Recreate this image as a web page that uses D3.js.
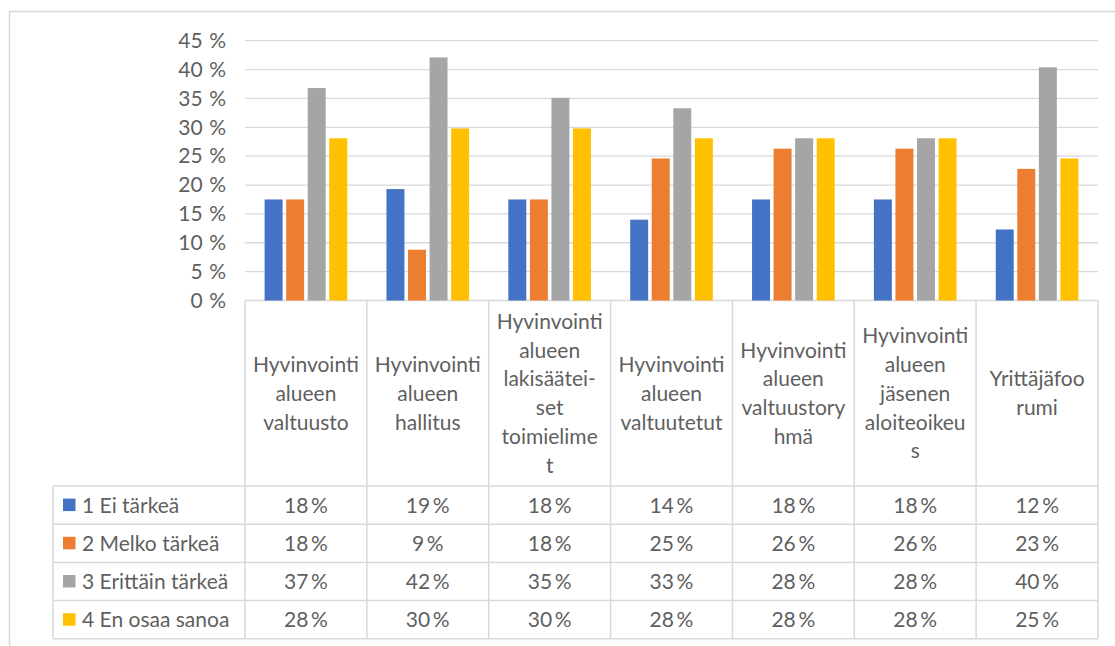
<!DOCTYPE html>
<html>
<head>
<meta charset="utf-8">
<script src="https://cdn.jsdelivr.net/npm/d3@7"></script>
<style>
  html, body { margin: 0; padding: 0; background: #fff; }
  svg { display: block; }
  text { font-family: Lato, "Noto Sans", sans-serif; fill: #5f5f5f; }
</style>
</head>
<body>
<svg id="chart" width="1115" height="646"></svg>
<script>
// Category headers, already wrapped into the lines shown in the table header
const categoryLines = [
  ["Hyvinvointi", "alueen", "valtuusto"],
  ["Hyvinvointi", "alueen", "hallitus"],
  ["Hyvinvointi", "alueen", "lakisäätei-", "set", "toimielime", "t"],
  ["Hyvinvointi", "alueen", "valtuutetut"],
  ["Hyvinvointi", "alueen", "valtuustory", "hmä"],
  ["Hyvinvointi", "alueen", "jäsenen", "aloiteoikeu", "s"],
  ["Yrittäjäfoo", "rumi"]
];

// Series names and colours
const seriesNames = ["1 Ei tärkeä", "2 Melko tärkeä", "3 Erittäin tärkeä", "4 En osaa sanoa"];
const seriesColors = ["#4472C4", "#ED7D31", "#A5A5A5", "#FFC000"];

// Shares of answers (%) per category, one array per series
const eiTarkea       = [17.5, 19.3, 17.5, 14.0, 17.5, 17.5, 12.3];
const melkoTarkea    = [17.5,  8.8, 17.5, 24.6, 26.3, 26.3, 22.8];
const erittainTarkea = [36.8, 42.1, 35.1, 33.3, 28.1, 28.1, 40.4];
const enOsaaSanoa    = [28.1, 29.8, 29.8, 28.1, 28.1, 28.1, 24.6];
const seriesValues = [eiTarkea, melkoTarkea, erittainTarkea, enOsaaSanoa];

// Axis ticks
const yTicks = [0, 5, 10, 15, 20, 25, 30, 35, 40, 45];

const svg = d3.select("#chart");
const grid = "#d9d9d9";
const fontSize = "21px";

// Outer chart frame
svg.append("rect")
  .attr("x", 9.5).attr("y", 11.5)
  .attr("width", 1200).attr("height", 700)
  .attr("fill", "none").attr("stroke", grid).attr("stroke-width", 1.5);

const plotLeft = 245, plotRight = 1098;
const y = d3.scaleLinear().domain([0, 45]).range([300.5, 40.7]);
const x = d3.scaleBand().domain(d3.range(categoryLines.length)).range([plotLeft, plotRight]).padding(0);
const xs = d3.scaleBand().domain(d3.range(seriesNames.length)).range([0, x.bandwidth()])
  .paddingInner(1 / 6).paddingOuter(0.91);

// Gridlines
svg.append("g").selectAll("line").data(yTicks).join("line")
  .attr("x1", plotLeft).attr("x2", plotRight)
  .attr("y1", d => y(d)).attr("y2", d => y(d))
  .attr("stroke", grid).attr("stroke-width", 1.3);

// Y axis labels
const yAxis = d3.axisLeft(y).tickValues(yTicks).tickSize(0).tickPadding(0)
  .tickFormat(d => d + "\u2005\u200A%");
svg.append("g").attr("transform", "translate(226,0)").call(yAxis)
  .call(g => g.select(".domain").remove())
  .selectAll("text")
  .style("font-size", fontSize).style("font-family", "Lato, sans-serif").attr("fill", "#5f5f5f");

// Bars
seriesValues.forEach((vals, s) => {
  svg.append("g").selectAll("rect").data(vals).join("rect")
    .attr("x", (d, i) => x(i) + xs(s))
    .attr("width", xs.bandwidth())
    .attr("y", d => y(d))
    .attr("height", d => y(0) - y(d))
    .attr("fill", seriesColors[s]);
});

// Data table
const headerTop = y(0), headerBottom = 486;
const rowH = 38.2;
const tableLeft = 53;
const rowY = i => headerBottom + i * rowH;
const tableBottom = rowY(seriesNames.length);

const tbl = svg.append("g");
// vertical lines
const colEdges = d3.range(categoryLines.length + 1).map(i => i < categoryLines.length ? x(i) : plotRight);
tbl.selectAll("line.v").data(colEdges).join("line").attr("class", "v")
  .attr("x1", d => d).attr("x2", d => d)
  .attr("y1", headerTop).attr("y2", tableBottom)
  .attr("stroke", grid).attr("stroke-width", 1.5);
tbl.append("line")
  .attr("x1", tableLeft).attr("x2", tableLeft)
  .attr("y1", headerBottom).attr("y2", tableBottom)
  .attr("stroke", grid).attr("stroke-width", 1.5);
// horizontal lines
tbl.selectAll("line.h").data(d3.range(seriesNames.length + 1)).join("line").attr("class", "h")
  .attr("x1", tableLeft).attr("x2", plotRight)
  .attr("y1", d => rowY(d)).attr("y2", d => rowY(d))
  .attr("stroke", grid).attr("stroke-width", 1.5);

// header texts
const lineH = 28.8;
const headerMid = (headerTop + headerBottom) / 2;
categoryLines.forEach((lines, i) => {
  const t = tbl.append("text")
    .attr("text-anchor", "middle")
    .style("font-size", fontSize);
  lines.forEach((ln, k) => {
    t.append("tspan")
      .attr("x", x(i) + x.bandwidth() / 2)
      .attr("y", headerMid + (k - (lines.length - 1) / 2) * lineH + 7.5)
      .text(ln);
  });
});

// legend keys + series names
seriesNames.forEach((name, s) => {
  const cy = rowY(s) + rowH / 2;
  tbl.append("rect")
    .attr("x", 63).attr("y", cy - 6.5).attr("width", 12.5).attr("height", 12.5)
    .attr("fill", seriesColors[s]);
  tbl.append("text")
    .attr("x", 82).attr("y", cy + 7.5)
    .style("font-size", fontSize)
    .text(name);
});

// values
const fmt = v => Math.round(v) + "\u2009%";
seriesValues.forEach((vals, s) => {
  tbl.append("g").selectAll("text").data(vals).join("text")
    .attr("x", (d, i) => x(i) + x.bandwidth() / 2)
    .attr("y", rowY(s) + rowH / 2 + 7.5)
    .attr("text-anchor", "middle")
    .style("font-size", fontSize)
    .text(d => fmt(d));
});
</script>
</body>
</html>
